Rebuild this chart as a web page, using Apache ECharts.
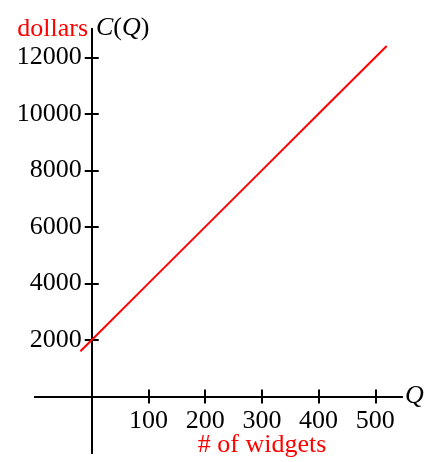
<!DOCTYPE html>
<html>
<head>
<meta charset="utf-8">
<script src="https://cdn.jsdelivr.net/npm/echarts@6/dist/echarts.min.js"></script>
<style>
  html, body { margin: 0; padding: 0; background: #fff; }
  #chart { width: 428px; height: 462px; }
</style>
</head>
<body>
<div id="chart"></div>
<script>
// Cost function C(Q): fixed cost plus a constant cost per widget
const quantities = [-20, 0, 100, 200, 300, 400, 520];
const costs = [1600, 2000, 4000, 6000, 8000, 10000, 12400];
const xTicks = [100, 200, 300, 400, 500];
const yTicks = [2000, 4000, 6000, 8000, 10000, 12000];

const X_MIN = -100, X_MAX = 547;
const Y_MIN = -2000, Y_MAX = 13000;

const SERIF = '"Liberation Serif", "DejaVu Serif", serif';
const RED = '#ff0000';
const FS = 26;

const W = 428, H = 462;
const GRID = { left: 35, right: 26, top: 29, bottom: 9 };
const gridW = W - GRID.left - GRID.right;
const gridH = H - GRID.top - GRID.bottom;
// shift each axis from the grid edge onto the other axis's zero
const xShift = -(0 - Y_MIN) / (Y_MAX - Y_MIN) * gridH;
const yShift = -(0 - X_MIN) / (X_MAX - X_MIN) * gridW;

const chart = echarts.init(document.getElementById('chart'), null, { renderer: 'canvas' });

const lineStyle = { color: '#000', width: 2 };
const tickStyle = { color: '#000', width: 2 };
const plain = v => String(v);

// two axes per dimension so each tick crosses the axis line
function xAxisDef(inside, withLabels) {
  return {
    type: 'value', position: 'bottom', offset: xShift, min: X_MIN, max: X_MAX,
    splitLine: { show: false },
    axisLine: { show: true, onZero: false, lineStyle },
    axisTick: { show: true, inside, length: 7, lineStyle: tickStyle, customValues: xTicks },
    axisLabel: {
      show: withLabels, customValues: xTicks, margin: 12, formatter: plain,
      color: '#000', fontFamily: SERIF, fontSize: FS
    }
  };
}
function yAxisDef(inside, withLabels) {
  return {
    type: 'value', position: 'left', offset: yShift, min: Y_MIN, max: Y_MAX,
    splitLine: { show: false },
    axisLine: { show: true, onZero: false, lineStyle },
    axisTick: { show: true, inside, length: 7, lineStyle: tickStyle, customValues: yTicks },
    axisLabel: {
      show: withLabels, customValues: yTicks, margin: 10, formatter: plain,
      color: '#000', fontFamily: SERIF, fontSize: FS
    }
  };
}

chart.setOption({
  animation: false,
  backgroundColor: '#fff',
  grid: Object.assign({ outerBoundsMode: 'none', containLabel: false }, GRID),
  xAxis: [xAxisDef(false, true), xAxisDef(true, false)],
  yAxis: [yAxisDef(false, true), yAxisDef(true, false)],
  series: [{
    type: 'line',
    xAxisIndex: 0, yAxisIndex: 0,
    data: quantities.map((q, i) => [q, costs[i]]),
    showSymbol: false,
    lineStyle: { color: RED, width: 2 },
    z: 1
  }],
  graphic: [
    {
      type: 'text', right: W - 88, top: 16,
      style: { text: 'dollars', font: `${FS}px ${SERIF}`, fill: RED }
    },
    {
      type: 'text', left: 96, top: 15,
      style: {
        text: '{i|C}({i|Q})',
        font: `${FS}px ${SERIF}`, fill: '#000',
        rich: { i: { fontStyle: 'italic', fontFamily: SERIF, fontSize: FS, fill: '#000' } }
      }
    },
    {
      type: 'text', left: 405, top: 383,
      style: { text: 'Q', font: `italic ${FS}px ${SERIF}`, fill: '#000' }
    },
    {
      type: 'text', x: 262, y: 432,
      style: { text: '# of widgets', font: `${FS}px ${SERIF}`, fill: RED, align: 'center', textAlign: 'center' }
    }
  ]
});
</script>
</body>
</html>
